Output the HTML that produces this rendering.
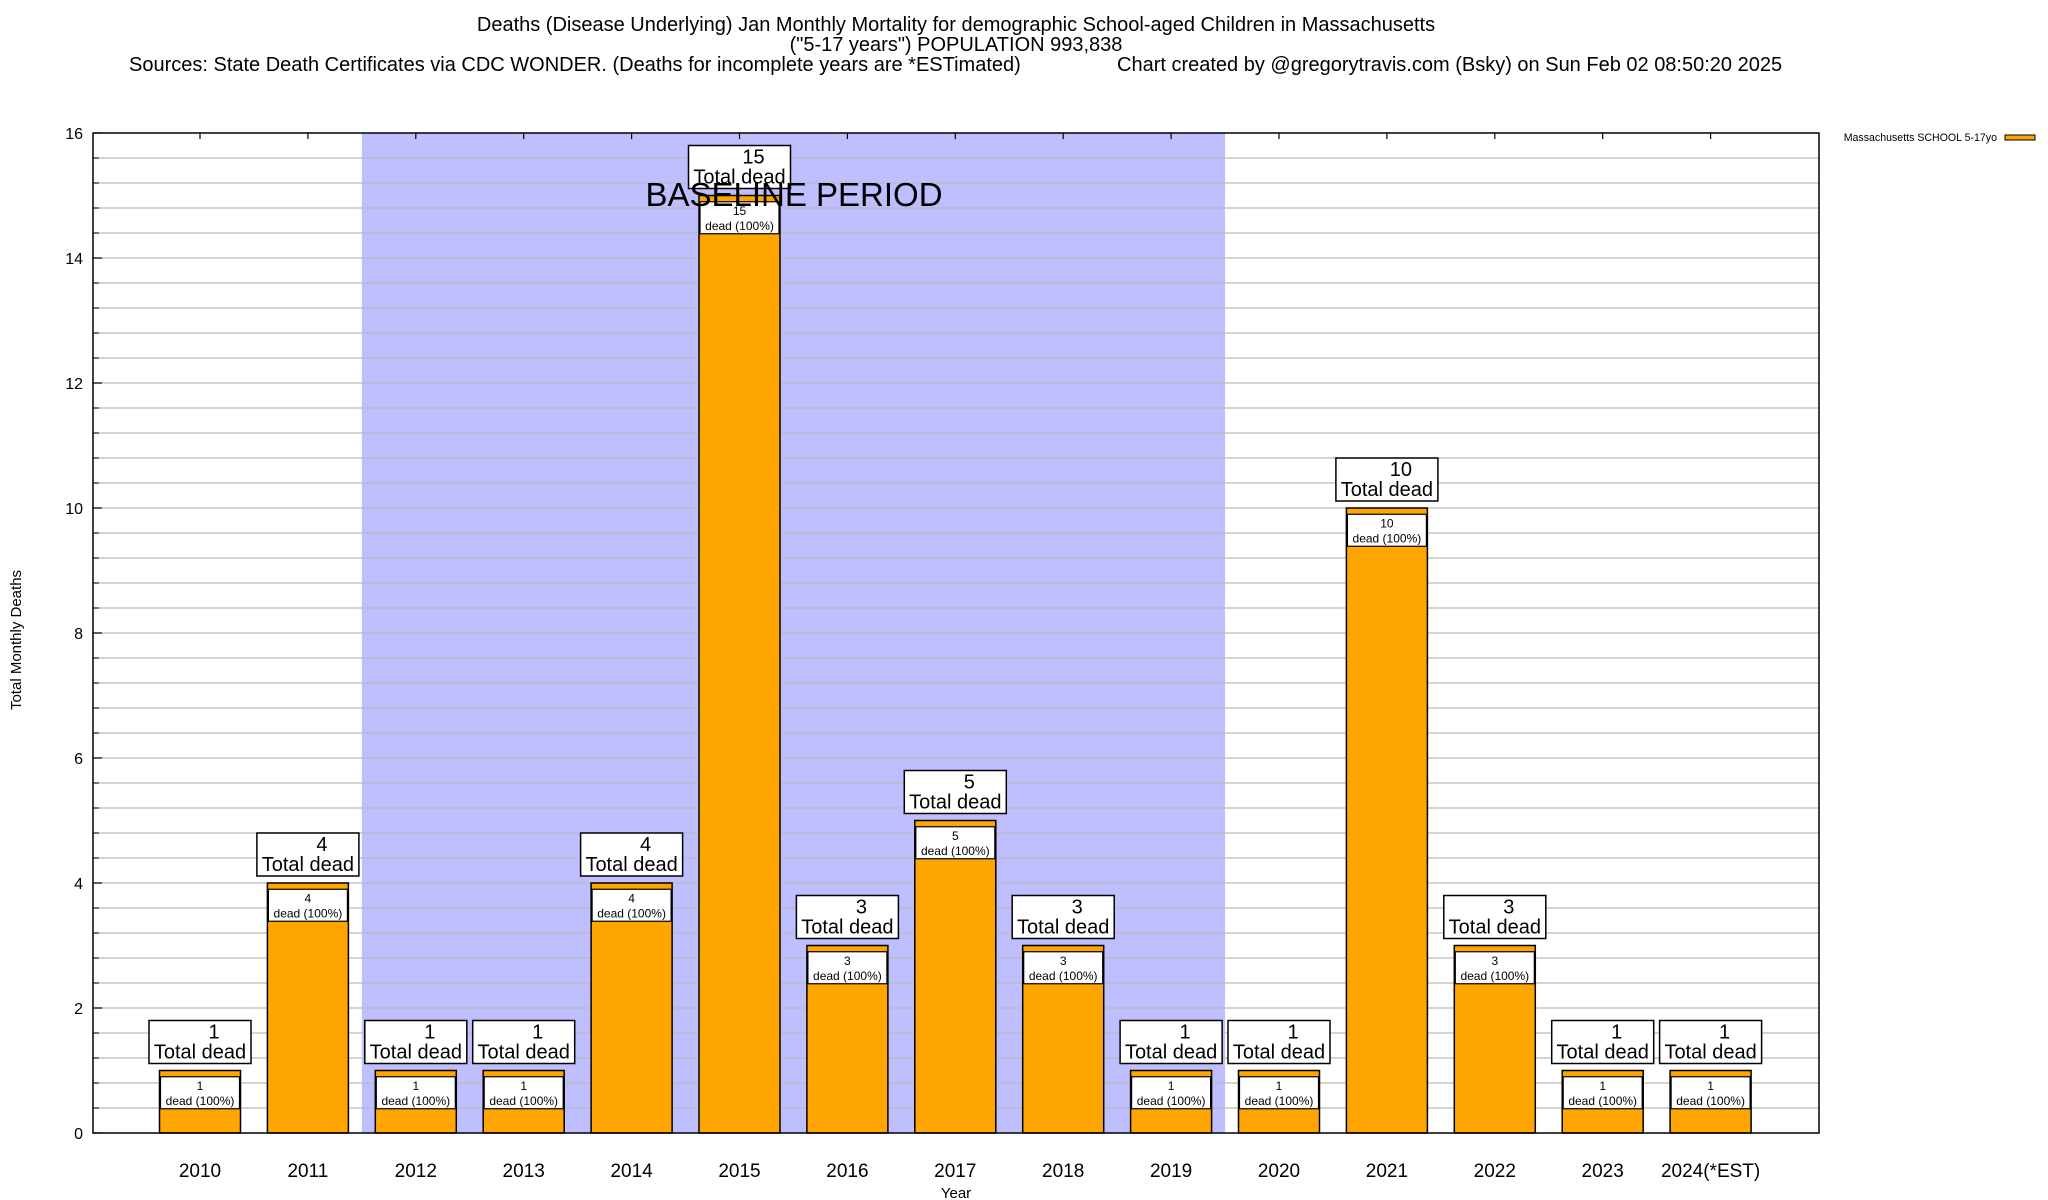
<!DOCTYPE html>
<html><head><meta charset="utf-8">
<style>
html,body{margin:0;padding:0;background:#fff;}
svg{display:block;font-family:"Liberation Sans",Arial,sans-serif;}
</style></head>
<body>
<svg id="chart" width="2048" height="1200" viewBox="0 0 2048 1200" xmlns="http://www.w3.org/2000/svg">
<text x="956" y="31" font-size="20" text-anchor="middle">Deaths (Disease Underlying) Jan Monthly Mortality for demographic School-aged Children in Massachusetts</text>
<text x="956" y="51" font-size="20" text-anchor="middle">("5-17 years") POPULATION 993,838</text>
<text x="129" y="71" font-size="20">Sources: State Death Certificates via CDC WONDER. (Deaths for incomplete years are *ESTimated)</text>
<text x="1117" y="71" font-size="20">Chart created by @gregorytravis.com (Bsky) on Sun Feb 02 08:50:20 2025</text>
<g id="plot"></g>
<text transform="translate(21,640) rotate(-90)" font-size="15" text-anchor="middle">Total Monthly Deaths</text>
<text x="956" y="1198" font-size="15" text-anchor="middle">Year</text>
<text x="1997" y="141" font-size="10.6" text-anchor="end">Massachusetts SCHOOL 5-17yo</text>
<rect x="2005" y="135" width="30" height="5" fill="#ffa500" stroke="#000" stroke-width="1"/>
</svg>
<script>
const years = ["2010","2011","2012","2013","2014","2015","2016","2017","2018","2019","2020","2021","2022","2023","2024(*EST)"];
const deaths = [1,4,1,1,4,15,3,5,3,1,1,10,3,1,1];
const yTicks = [0,2,4,6,8,10,12,14,16];
const baselineStart = 1.5, baselineEnd = 9.5;

const L=93, R=1819, T=133, B=1133, yMax=16;
const step=107.9, x0=200;
const NS="http://www.w3.org/2000/svg";
const g=document.getElementById('plot');
function X(i){return x0+i*step;}
function Y(v){return B-(v/yMax)*(B-T);}
function el(tag,attrs,parent){const e=document.createElementNS(NS,tag);for(const k in attrs)e.setAttribute(k,attrs[k]);(parent||g).appendChild(e);return e;}

const band=el('rect',{x:X(baselineStart),y:T,width:X(baselineEnd)-X(baselineStart),height:B-T,fill:'#bfbfff'});



for(let k=1;k<40;k++){
  const v=k*0.4, y=Y(v);
  const ln=el('line',{x1:L,x2:R,y1:y,y2:y,stroke:'#bbbbbb','stroke-width':1.3});
  
  
  el('line',{x1:L,x2:L+6,y1:y,y2:y,stroke:'#000','stroke-width':1});
}
yTicks.forEach(v=>{
  const t=el('text',{x:83,y:Y(v)+6,'font-size':16,'text-anchor':'end'});
  t.textContent=v;
  
  
  el('line',{x1:L,x2:L+9,y1:Y(v),y2:Y(v),stroke:'#000','stroke-width':1.2});
});

const bl=el('text',{x:794,y:206,'font-size':33,'text-anchor':'middle'});
bl.textContent='BASELINE PERIOD';



const bw=81;
deaths.forEach((d,i)=>{
  const cx=X(i), top=Y(d);
  const bar=el('rect',{x:cx-bw/2,y:top,width:bw,height:B-top,fill:'#ffa500',stroke:'#000','stroke-width':1.5});
  
  
  const ib=el('rect',{x:cx-bw/2+1,y:Y(d-0.1),width:bw-2,height:32,fill:'#fff',stroke:'#000','stroke-width':1.2});
  
  
  const t1=el('text',{x:cx,y:Y(d-0.1)+13,'font-size':12,'text-anchor':'middle'});t1.textContent=d;
  
  
  const t2=el('text',{x:cx,y:Y(d-0.1)+28,'font-size':12,'text-anchor':'middle'});t2.textContent='dead (100%)';
  
  
  const ob=el('rect',{x:cx-51,y:top-50,width:102,height:43,fill:'#fff',stroke:'#000','stroke-width':1.5});
  
  
  const o1=el('text',{x:cx+14,y:top-32,'font-size':20,'text-anchor':'middle'});o1.textContent=d;
  
  
  const o2=el('text',{x:cx,y:top-12,'font-size':20,'text-anchor':'middle'});o2.textContent='Total dead';
  
  
  const xl=el('text',{x:cx,y:1177,'font-size':19,'text-anchor':'middle'});xl.textContent=years[i];
  
  
  el('line',{x1:cx,x2:cx,y1:T,y2:T+6,stroke:'#000','stroke-width':1.2});
});
const frame=el('rect',{x:L,y:T,width:R-L,height:B-T,fill:'none',stroke:'#000','stroke-width':1.5});


g.appendChild(bl);
</script>
</body></html>
